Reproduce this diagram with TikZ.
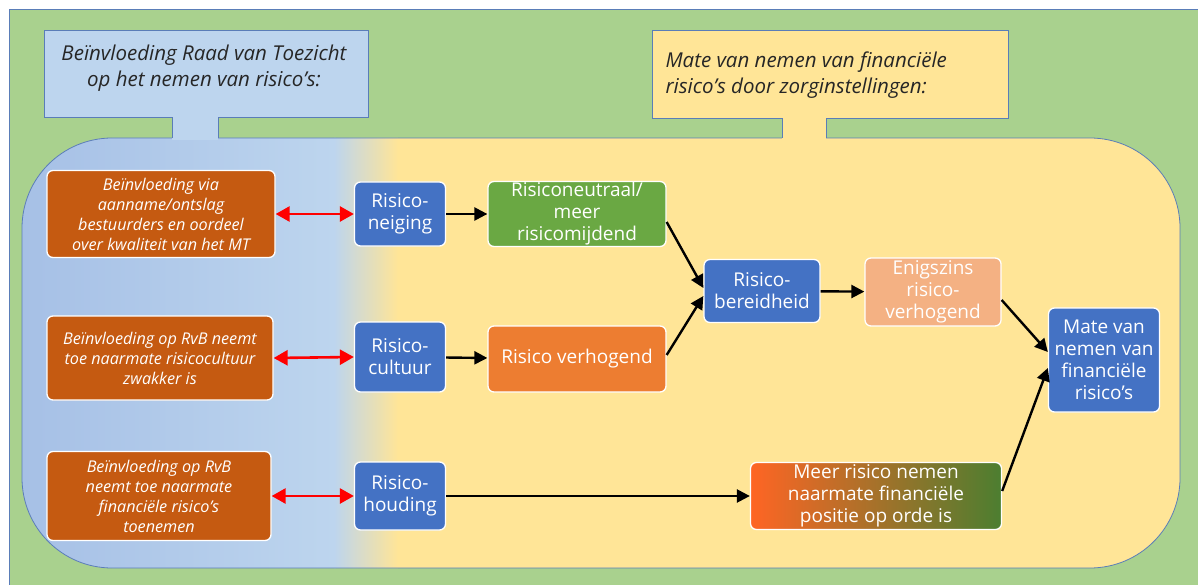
\documentclass[tikz,border=0pt]{standalone}
\usepackage{fontspec}
\setmainfont{Open Sans}
\usetikzlibrary{arrows.meta}

\definecolor{bggreen}{HTML}{A9D18E}
\definecolor{edgeblue}{HTML}{5A7DB8}
\definecolor{zoneblauw}{HTML}{BDD5EE}
\definecolor{zoneblauwdonker}{HTML}{A6C0E6}
\definecolor{zonegeel}{HTML}{FFE597}
\definecolor{rvtoranje}{HTML}{C55A11}
\definecolor{blokblauw}{HTML}{4472C4}
\definecolor{blokgroen}{HTML}{6AA843}
\definecolor{blokoranje}{HTML}{ED7D31}
\definecolor{bloklicht}{HTML}{F4B183}
\definecolor{posrood}{HTML}{FF6524}
\definecolor{posgroen}{HTML}{4C7E30}

\tikzset{
  titel/.style={font=\fontsize{20.5}{26}\selectfont\itshape, text=black!85},
  blok/.style={draw=white, line width=1.3pt, rounded corners=6pt, align=center,
    text=white, inner sep=1pt, font=\fontsize{19}{22}\selectfont},
  rvt/.style={blok, fill=rvtoranje, font=\fontsize{16.2}{20}\selectfont\itshape},
  pijl/.style={-{Triangle[length=13pt,width=13pt]}, line width=2.4pt},
  dubbel/.style={{Triangle[length=14pt,width=15pt]}-{Triangle[length=14pt,width=15pt]},
    red, line width=2.6pt}
}

\begin{document}
\begin{tikzpicture}[x=1pt, y=-1pt]
  \useasboundingbox (0,0) rectangle (1198,585);

  % green background
  \fill[bggreen] (9,10) rectangle (1198,585);
  \draw[edgeblue, line width=1pt] (9,585) -- (9,10) -- (1198,10);

  % the big zone, blue on the left and yellow on the right
  \begin{scope}
    \clip[rounded corners=90pt] (22,138) rectangle (1180,568);
    \fill[zonegeel] (22,138) rectangle (1180,568);
    \shade[left color=zoneblauwdonker, right color=zoneblauw] (22,138) rectangle (336,568);
    \shade[left color=zoneblauw, right color=zonegeel] (334,138) rectangle (398,568);
  \end{scope}
  \draw[edgeblue, line width=0.8pt, rounded corners=90pt] (22,138) rectangle (1180,568);

  % callout of the Raad van Toezicht
  \fill[zoneblauw] (44,30) rectangle (368,117);
  \fill[zoneblauw] (172,116) rectangle (218,140);
  \draw[edgeblue, line width=0.8pt] (172,138) -- (172,117) -- (44,117) -- (44,30)
    -- (368,30) -- (368,117) -- (218,117) -- (218,138);
  \node[titel, align=center] (titelrvt) at (204,68)
    {Beïnvloeding Raad van Toezicht\\op het nemen van risico’s:};

  % callout of the zorginstellingen
  \fill[zonegeel] (652,30) rectangle (1008,118);
  \fill[zonegeel] (782,116) rectangle (826,140);
  \draw[edgeblue, line width=0.8pt] (782,138) -- (782,118) -- (652,118) -- (652,30)
    -- (1008,30) -- (1008,118) -- (826,118) -- (826,138);
  \node[titel, align=left, anchor=west] (titelzorg) at (662,75)
    {Mate van nemen van financiële\\risico’s door zorginstellingen:};

  % influence of the RvT
  \node[rvt, minimum width=228pt, minimum height=87pt] (rvt1) at (161,214)
    {Beïnvloeding via\\aanname/ontslag\\bestuurders en oordeel\\over kwaliteit van het MT};
  \node[rvt, minimum width=226pt, minimum height=84pt] (rvt2) at (160,358)
    {Beïnvloeding op RvB neemt\\toe naarmate risicocultuur\\zwakker is};
  \node[rvt, minimum width=224pt, minimum height=89pt] (rvt3) at (159,496)
    {Beïnvloeding op RvB\\neemt toe naarmate\\financiële risico’s\\toenemen};

  % the three risk factors
  \node[blok, fill=blokblauw, minimum width=91pt, minimum height=64pt] (neiging) at (400,214)
    {Risico-\\neiging};
  \node[blok, fill=blokblauw, minimum width=91pt, minimum height=70pt] (cultuur) at (400,357)
    {Risico-\\cultuur};
  \node[blok, fill=blokblauw, minimum width=91pt, minimum height=68pt] (houding) at (400,496)
    {Risico-\\houding};

  % their effect
  \node[blok, fill=blokgroen, minimum width=178pt, minimum height=65pt] (neutraal) at (577,214)
    {Risiconeutraal/\\meer\\risicomijdend};
  \node[blok, fill=blokoranje, minimum width=178pt, minimum height=66pt] (verhogend) at (577,359)
    {Risico verhogend};
  \node[blok, fill=blokblauw, minimum width=116pt, minimum height=63pt] (bereid) at (762,291)
    {Risico-\\bereidheid};
  \node[blok, fill=bloklicht, minimum width=136pt, minimum height=68pt] (enigszins) at (933,292)
    {Enigszins\\risico-\\verhogend};
  \node[blok, left color=posrood, right color=posgroen, minimum width=251pt, minimum height=67pt]
    (positie) at (876,496) {Meer risico nemen\\naarmate financiële\\positie op orde is};
  \node[blok, fill=blokblauw, minimum width=111pt, minimum height=104pt] (mate) at (1104,360)
    {Mate van\\nemen van\\financiële\\risico’s};

  % red links between RvT and the factors
  \draw[dubbel] (rvt1.east) -- (neiging.west);
  \draw[dubbel] (rvt2.east) -- (cultuur.west);
  \draw[dubbel] (rvt3.east) -- (houding.west);

  % black arrows
  \draw[pijl] (neiging) -- (neutraal);
  \draw[pijl] (cultuur) -- (verhogend);
  \draw[pijl] (houding) -- (positie);
  \draw[pijl] ([yshift=-8pt]neutraal.east) -- ([yshift=3pt]bereid.west);
  \draw[pijl] ([yshift=4pt]verhogend.east) -- ([yshift=-5pt]bereid.west);
  \draw[pijl] (bereid) -- (enigszins);
  \draw[pijl] ([yshift=-8pt]enigszins.east) -- ([yshift=8pt]mate.west);
  \draw[pijl] ([yshift=5pt]positie.east) -- ([yshift=-8pt]mate.west);
\end{tikzpicture}
\end{document}
